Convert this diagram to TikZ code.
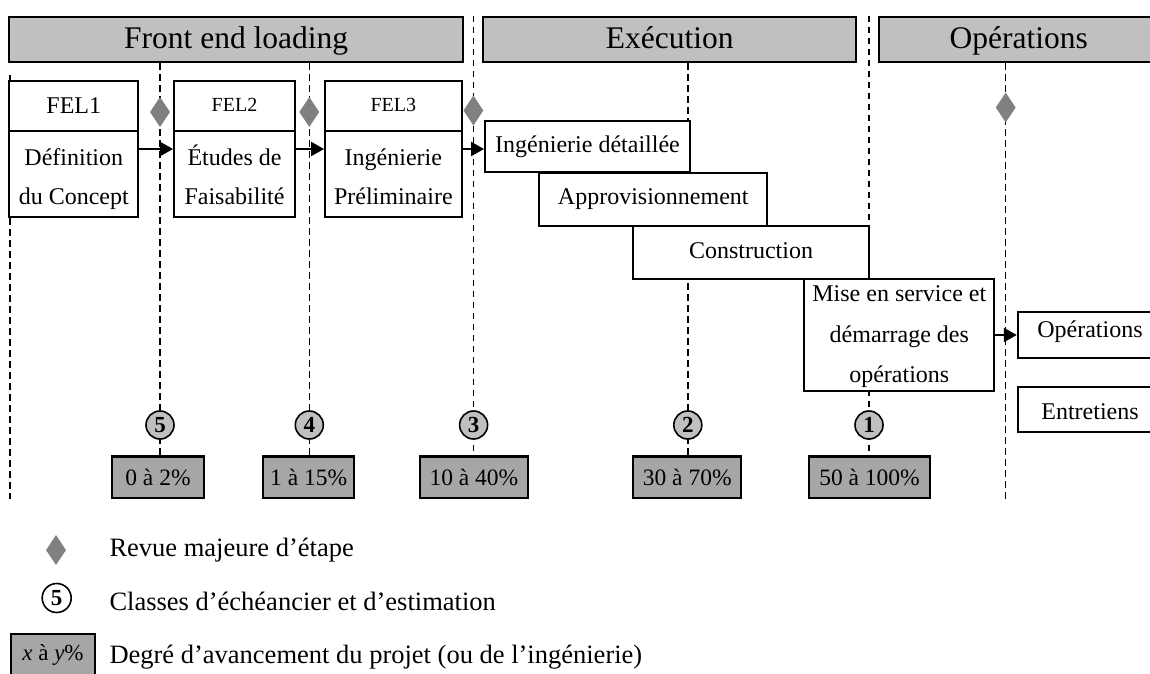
\documentclass[tikz,border=0pt]{standalone}
\usepackage{fontspec}
\setmainfont{Liberation Serif}[BoldFont={Liberation Serif Bold},ItalicFont={Liberation Serif Italic}]
\usetikzlibrary{shapes.geometric,arrows.meta}
\pgfdeclarelayer{background}
\pgfsetlayers{background,main}
\definecolor{hdrgray}{HTML}{C0C0C0}
\definecolor{pctgray}{HTML}{A6A6A6}
\definecolor{diagray}{HTML}{808080}
\begin{document}
\begin{tikzpicture}[x=1pt,y=-1pt,
  hdrbox/.style={draw,line width=2.1pt,fill=hdrgray,inner sep=0pt,minimum height=45.3pt},
  wbox/.style={draw,line width=1.9pt,fill=white,inner sep=0pt},
  pctbox/.style={draw,line width=2.1pt,fill=pctgray,inner sep=0pt,minimum height=41.8pt,font=\fontsize{23.5}{26}\selectfont},
  clsnode/.style={circle,draw,line width=1.6pt,fill=hdrgray,minimum size=28pt,inner sep=0pt,font=\fontsize{23}{23}\selectfont\bfseries},
  revnode/.style={diamond,fill=diagray,minimum width=20pt,minimum height=30pt,inner sep=0pt},
  guide/.style={line width=1.4pt,dash pattern=on 6.5pt off 4.5pt},
  arr/.style={line width=2.2pt,-{Triangle[length=13pt,width=14pt]}},
  txt/.style={anchor=base,inner sep=0pt},
  hfont/.style={font=\fontsize{31.5}{36}\selectfont},
  bfont/.style={font=\fontsize{24}{28}\selectfont},
  sfont/.style={font=\fontsize{20}{24}\selectfont},
  lfont/.style={font=\fontsize{26.5}{30}\selectfont}
]
\useasboundingbox (0,0) rectangle (1150,673);
\clip (0,0) rectangle (1150,673);

% headers
\node[hdrbox,minimum width=453.7pt] (hFEL) at (236.2,39.35) {};
\node[hdrbox,minimum width=373.3pt] (hEXE) at (669.35,39.35) {};
\node[hdrbox,minimum width=280.4pt] (hOPS) at (1018.9,39.35) {};
\node[txt,hfont] (tFEL) at (236.2,48.4) {Front end loading};
\node[txt,hfont] (tEXE) at (669.8,48.8) {Exécution};
\node[txt,hfont] (tOPS) at (1018.8,48.8) {Opérations};

% FEL boxes
\node[wbox,minimum width=129pt,minimum height=50.3pt] (F1a) at (73.8,105.85) {};
\node[wbox,minimum width=129pt,minimum height=86.3pt] (F1b) at (73.8,174.15) {};
\node[wbox,minimum width=121pt,minimum height=50.3pt] (F2a) at (234.5,105.85) {};
\node[wbox,minimum width=121pt,minimum height=86.3pt] (F2b) at (234.5,174.15) {};
\node[wbox,minimum width=136.7pt,minimum height=50.3pt] (F3a) at (393.35,105.85) {};
\node[wbox,minimum width=136.7pt,minimum height=86.3pt] (F3b) at (393.35,174.15) {};
\node[txt,bfont] (tF1a) at (73.8,113.3) {FEL1};
\node[txt,sfont] (tF2a) at (234.5,111.5) {FEL2};
\node[txt,sfont] (tF3a) at (393.35,111.5) {FEL3};
\node[txt,bfont] (tF1b) at (73.8,165.7) {Définition};
\node[txt,bfont] (tF1c) at (73.8,204) {du Concept};
\node[txt,bfont] (tF2b) at (234.5,165.7) {Études de};
\node[txt,bfont] (tF2c) at (234.5,204) {Faisabilité};
\node[txt,bfont] (tF3b) at (393.35,165.7) {Ingénierie};
\node[txt,bfont] (tF3c) at (393.35,204) {Préliminaire};

% execution boxes
\node[wbox,minimum width=205pt,minimum height=51.6pt] (ID) at (587.5,146.5) {};
\node[wbox,minimum width=228pt,minimum height=53pt] (AP) at (653.3,199.2) {};
\node[wbox,minimum width=235.4pt,minimum height=52.7pt] (CO) at (751,252.35) {};
\node[wbox,minimum width=190pt,minimum height=112.6pt] (MI) at (899.3,335) {};
\node[txt,bfont] (tID) at (587.5,152.7) {Ingénierie détaillée};
\node[txt,bfont] (tAP) at (653.3,204) {Approvisionnement};
\node[txt,bfont] (tCO) at (751,258.7) {Construction};
\node[txt,bfont] (tMIa) at (899.3,301.7) {Mise en service et};
\node[txt,bfont] (tMIb) at (899.3,342.3) {démarrage des};
\node[txt,bfont] (tMIc) at (899.3,382.6) {opérations};

% operations boxes
\node[wbox,minimum width=144.6pt,minimum height=45.4pt] (OP) at (1090,335) {};
\node[wbox,minimum width=144.6pt,minimum height=45.3pt] (EN) at (1090,409.65) {};
\node[txt,bfont] (tOP) at (1090,337.3) {Opérations};
\node[txt,bfont] (tEN) at (1090,419.3) {Entretiens};

% diamonds
\node[revnode] (d1) at (160,112) {};
\node[revnode] (d2) at (309.3,112) {};
\node[revnode] (d3) at (473.4,110.5) {};
\node[revnode] (d4) at (1005.7,107.5) {};

% classes
\node[clsnode] (c5) at (160,425) {5};
\node[clsnode] (c4) at (309.3,425) {4};
\node[clsnode] (c3) at (473.6,425) {3};
\node[clsnode] (c2) at (687.8,425) {2};
\node[clsnode] (c1) at (869,425) {1};

% percentages
\node[pctbox,minimum width=91.4pt] (p5) at (158,477.4) {0 à 2\%};
\node[pctbox,minimum width=91.3pt] (p4) at (308.7,477.4) {1 à 15\%};
\node[pctbox,minimum width=108.3pt] (p3) at (473.9,477.4) {10 à 40\%};
\node[pctbox,minimum width=108.3pt] (p2) at (687.2,477.4) {30 à 70\%};
\node[pctbox,minimum width=121pt] (p1) at (869.5,477.4) {50 à 100\%};

% guides
\coordinate (gA) at (10,75);
\coordinate (gB) at (10,499);
\coordinate (arow) at (0,149);
\begin{pgfonlayer}{background}
\draw[guide] (gA) -- (gB);
\draw[guide] (hFEL.south -| c5) -- (c5 |- p5.north);
\draw[guide] (hFEL.south -| c4) -- (c4 |- p4.north);
\draw[guide] (c3 |- hFEL.north) -- (c3 |- p3.north);
\draw[guide] (hEXE.south -| c2) -- (c2 |- p2.north);
\draw[guide] (c1 |- hEXE.north) -- (c1 |- p1.north);
\draw[guide] (hOPS.south -| d4) -- (d4 |- gB);
\end{pgfonlayer}

% arrows
\draw[arr] (F1b.east |- arow) -- (F2b.west |- arow);
\draw[arr] (F2b.east |- arow) -- (F3b.west |- arow);
\draw[arr] (F3b.east |- arow) -- (ID.west |- arow);
\draw[arr] (MI) -- (OP);

% legend
\node[revnode] (lgd) at (56,550) {};
\node[txt,lfont,anchor=base west] (lgt1) at (109.3,556.7) {Revue majeure d’étape};
\node[clsnode,fill=white,minimum size=29pt] (lgc) at (56.7,598) {5};
\node[txt,lfont,anchor=base west] (lgt2) at (109.3,610) {Classes d’échéancier et d’estimation};
\node[pctbox,minimum width=84pt,font=\fontsize{23}{26}\selectfont] (lgb) at (53,655.2) {\textit{x} à \textit{y}\%};
\node[txt,lfont,anchor=base west] (lgt3) at (109.3,663.3) {Degré d’avancement du projet (ou de l’ingénierie)};
\end{tikzpicture}
\end{document}
